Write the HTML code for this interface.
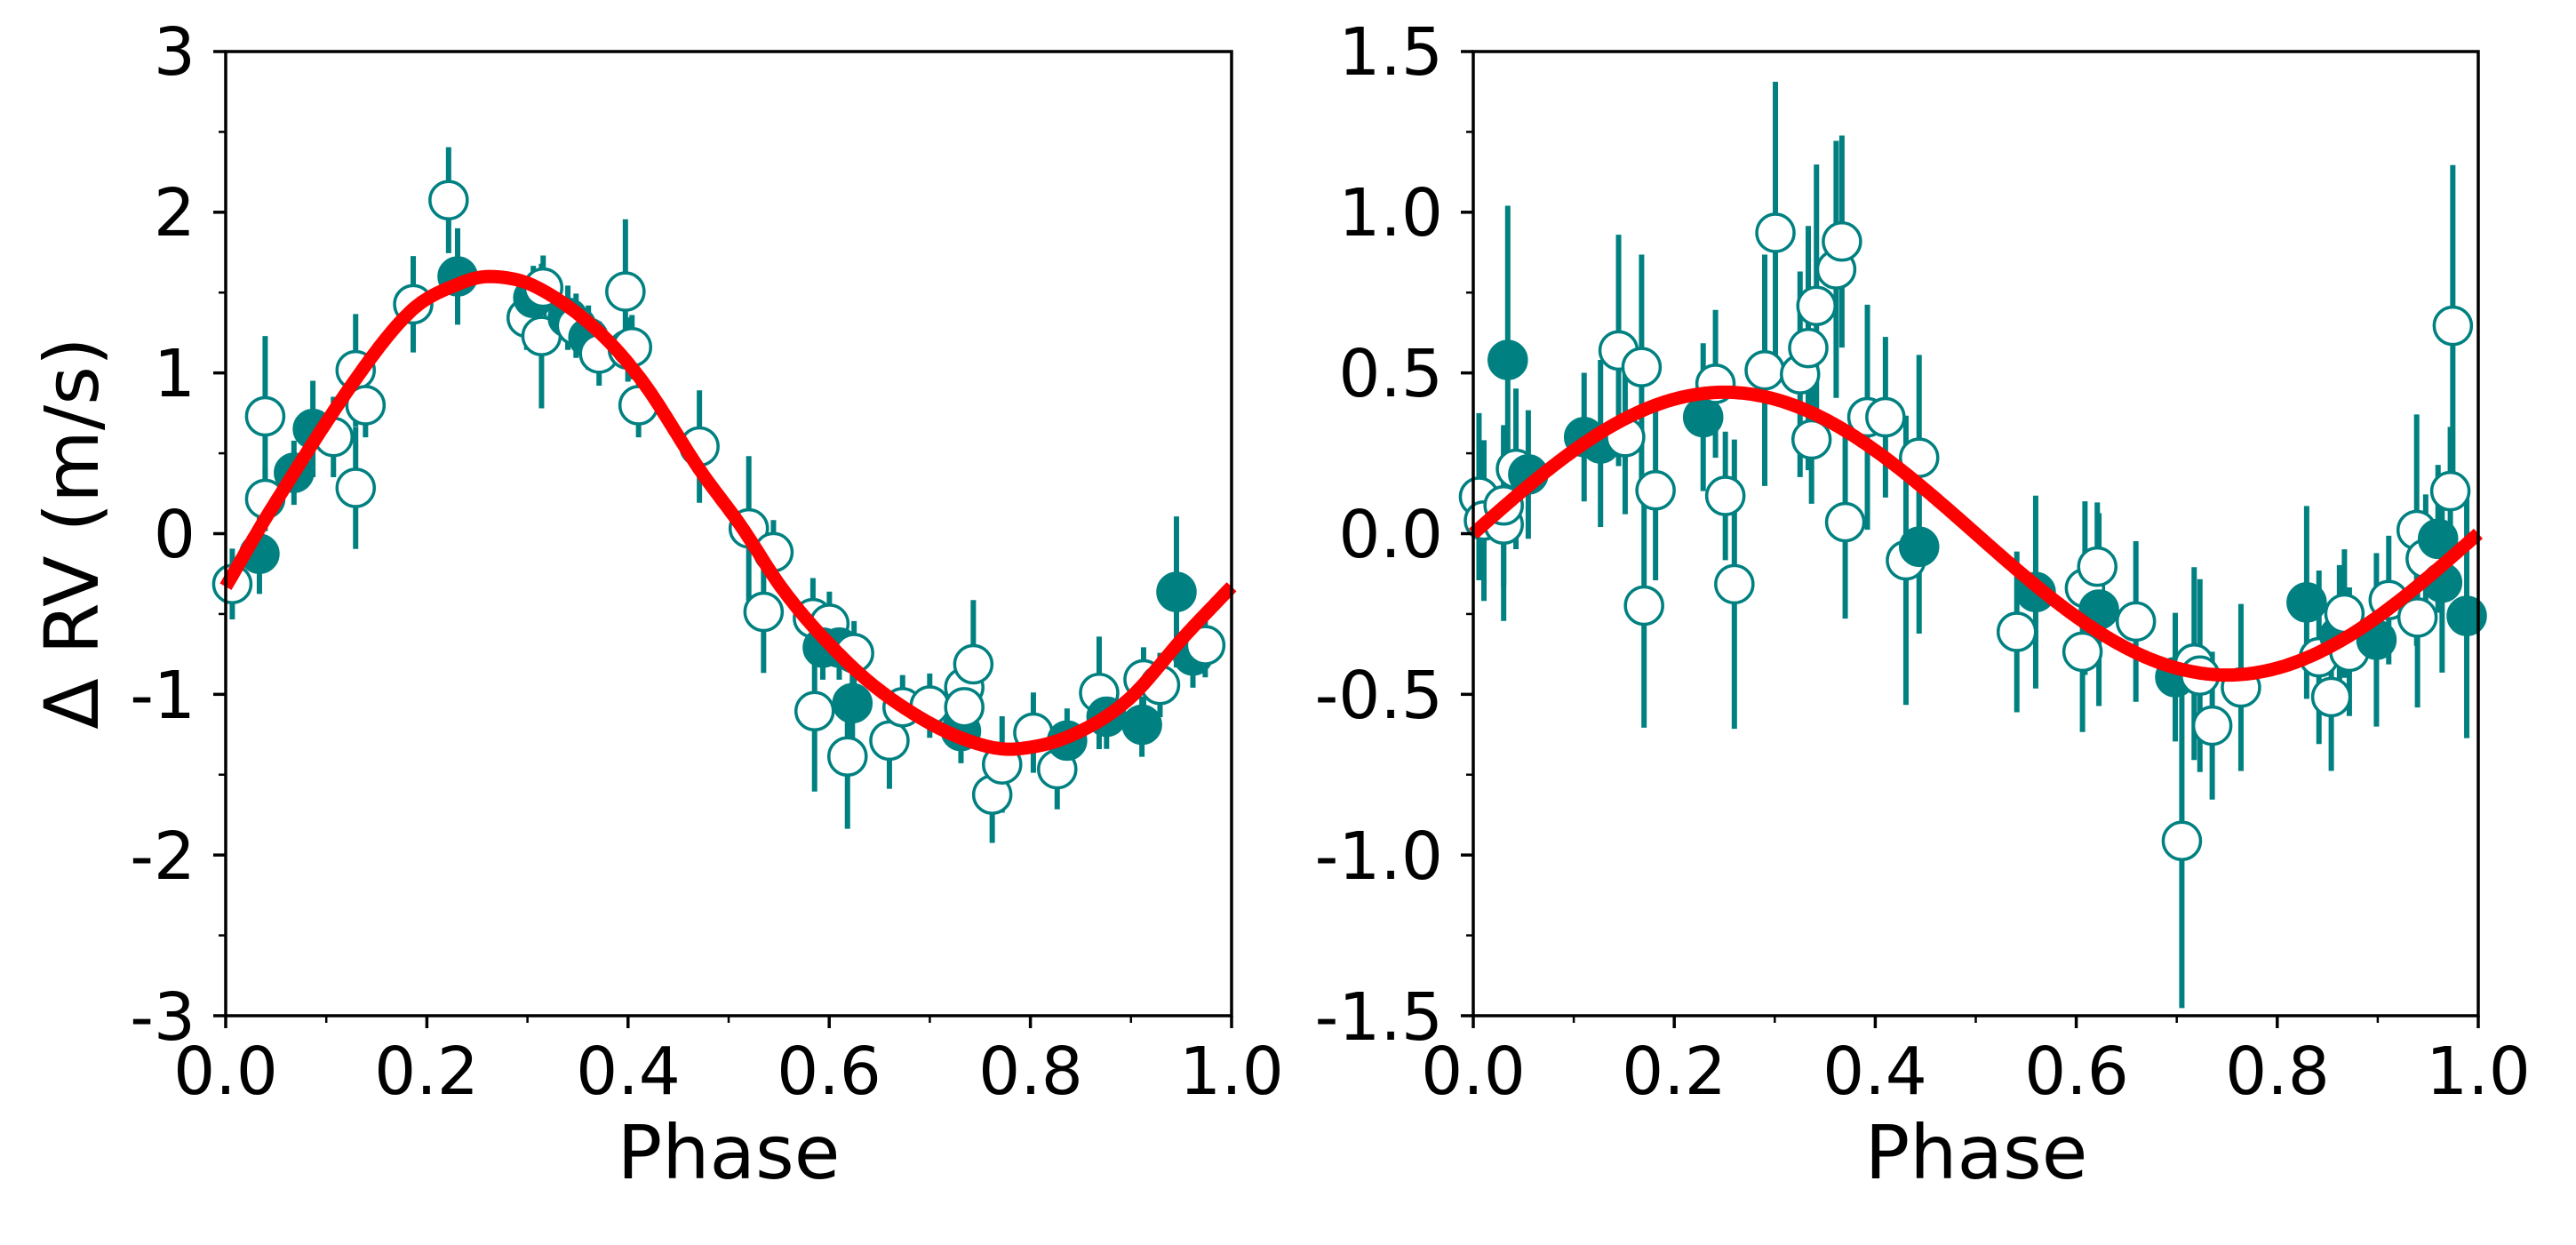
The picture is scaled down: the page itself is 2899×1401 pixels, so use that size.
<!DOCTYPE html>
<html><head><meta charset="utf-8"><style>
html,body{margin:0;padding:0;background:#fff;}
svg{display:block;}
text{font-family:"DejaVu Sans","Liberation Sans",sans-serif;fill:#000;}
</style></head><body>
<svg id="s" width="2899" height="1401" viewBox="0 0 2899 1401" xmlns="http://www.w3.org/2000/svg">
<g id="plots"></g>
<g font-size="74">
<text x="220" y="84" text-anchor="end">3</text>
<text x="220" y="265" text-anchor="end">2</text>
<text x="220" y="446" text-anchor="end">1</text>
<text x="220" y="627" text-anchor="end">0</text>
<text x="220" y="808" text-anchor="end">-1</text>
<text x="220" y="989" text-anchor="end">-2</text>
<text x="220" y="1170" text-anchor="end">-3</text>
<text x="254" y="1231" text-anchor="middle">0.0</text>
<text x="480" y="1231" text-anchor="middle">0.2</text>
<text x="707" y="1231" text-anchor="middle">0.4</text>
<text x="933" y="1231" text-anchor="middle">0.6</text>
<text x="1160" y="1231" text-anchor="middle">0.8</text>
<text x="1386" y="1231" text-anchor="middle">1.0</text>
<text x="1624" y="84" text-anchor="end">1.5</text>
<text x="1624" y="265" text-anchor="end">1.0</text>
<text x="1624" y="446" text-anchor="end">0.5</text>
<text x="1624" y="627" text-anchor="end">0.0</text>
<text x="1624" y="808" text-anchor="end">-0.5</text>
<text x="1624" y="989" text-anchor="end">-1.0</text>
<text x="1624" y="1170" text-anchor="end">-1.5</text>
<text x="1658" y="1231" text-anchor="middle">0.0</text>
<text x="1884" y="1231" text-anchor="middle">0.2</text>
<text x="2110" y="1231" text-anchor="middle">0.4</text>
<text x="2337" y="1231" text-anchor="middle">0.6</text>
<text x="2563" y="1231" text-anchor="middle">0.8</text>
<text x="2789" y="1231" text-anchor="middle">1.0</text>
</g>
<g font-size="84">
<text x="820" y="1326" text-anchor="middle">Phase</text>
<text x="2224" y="1326" text-anchor="middle">Phase</text>
<text transform="translate(110,600) rotate(-90)" text-anchor="middle">Δ RV (m/s)</text>
</g>
</svg>
<script>
(function(){
var NS="http://www.w3.org/2000/svg",g=document.getElementById("plots");
function el(n,a,p){var e=document.createElementNS(NS,n);for(var k in a)e.setAttribute(k,a[k]);(p||g).appendChild(e);return e;}
var T="#008080";
function panel(x0,x1,y0,y1,vmax,vmin,minorStep,majorStep,pts,curve){
  var sx=function(p){return x0+(x1-x0)*p;};
  var sy=function(v){return y0+(y1-y0)*(vmax-v)/(vmax-vmin);};
  pts.forEach(function(d){el("line",{x1:sx(d[0]),x2:sx(d[0]),y1:sy(d[1]+d[2]),y2:sy(d[1]-d[2]),stroke:T,"stroke-width":6});});
  pts.forEach(function(d){el("circle",{cx:sx(d[0]),cy:sy(d[1]),r:21,fill:d[3]?T:"#fff",stroke:T,"stroke-width":3.5});});
  var s="";for(var i=0;i<=400;i++){var p=i/400;s+=(i?"L":"M")+sx(p).toFixed(1)+","+sy(curve(p)).toFixed(1);}
  el("path",{d:s,fill:"none",stroke:"#ff0000","stroke-width":15,"stroke-linejoin":"round"});
  for(var v=vmin;v<=vmax+1e-9;v+=minorStep){var maj=Math.abs(v/majorStep-Math.round(v/majorStep))<1e-6;
    el("line",{x1:x0,x2:x0-(maj?14:8),y1:sy(v),y2:sy(v),stroke:"#000","stroke-width":maj?3.5:2.5});}
  for(var i=0;i<=10;i++){var maj=i%2==0;el("line",{x1:sx(i/10),x2:sx(i/10),y1:y1,y2:y1+(maj?14:8),stroke:"#000","stroke-width":maj?3.5:2.5});}
  el("rect",{x:x0,y:y0,width:x1-x0,height:y1-y0,fill:"none",stroke:"#000","stroke-width":3.5});
}
function interp(knots){return function(p){
  for(var i=0;i<knots.length-1;i++){if(p<=knots[i+1][0]){
    var a=knots[Math.max(i-1,0)],b=knots[i],c=knots[i+1],d=knots[Math.min(i+2,knots.length-1)];
    var t=(p-b[0])/(c[0]-b[0]);var m1=(c[1]-a[1])/(c[0]-a[0])*(c[0]-b[0]),m2=(d[1]-b[1])/(d[0]-b[0])*(c[0]-b[0]);
    var t2=t*t,t3=t2*t;return (2*t3-3*t2+1)*b[1]+(t3-2*t2+t)*m1+(-2*t3+3*t2)*c[1]+(t3-t2)*m2;}}
  return knots[knots.length-1][1];};}
var lk=[[0,-0.33],[0.046,0.16],[0.128,0.95],[0.185,1.39],[0.234,1.56],[0.265,1.60],[0.307,1.54],[0.365,1.29],[0.414,0.95],[0.471,0.40],[0.512,0.05],[0.553,-0.34],[0.593,-0.64],[0.643,-0.94],[0.70,-1.18],[0.749,-1.31],[0.786,-1.34],[0.839,-1.26],[0.896,-1.04],[0.953,-0.64],[1.0,-0.33]];
function L(X,Y,e,f){return [(X-274)/1223,3-(Y-65)/202.2,e,f];}
var lp=[L(282,735,.22,0),L(315,697,.25,1),L(322,628,.2,0),L(322,524,.5,0),L(357,595,.2,1),L(380,540,.3,1),L(405,550,.25,0),L(432,466,.35,0),L(444,510,.2,0),L(432,614,.38,0),L(502,383,.3,0),L(545,252,.33,0),L(556,348,.3,1),L(640,400,.2,0),L(648,375,.2,1),L(660,362,.2,0),L(658,423,.45,0),L(690,400,.2,1),L(700,410,.2,0),L(715,425,.2,1),L(728,445,.2,0),L(760,367,.45,0),L(763,440,.2,0),L(768,437,.2,0),L(776,510,.2,0),L(850,562,.35,0),L(910,665,.45,0),L(940,695,.2,0),L(928,770,.38,0),L(988,778,.25,0),L(1008,785,.2,0),L(1000,815,.2,1),L(1020,815,.2,1),L(1038,822,.2,0),L(990,895,.5,0),L(1036,885,.3,1),L(1030,952,.45,0),L(1081,932,.3,0),L(1097,890,.2,0),L(1130,888,.2,0),L(1168,920,.2,1),L(1172,865,.2,0),L(1183,836,.4,0),L(1172,890,.2,0),L(1206,1000,.3,0),L(1218,962,.3,0),L(1256,922,.25,0),L(1285,968,.25,0),L(1297,932,.2,1),L(1336,872,.35,0),L(1345,902,.2,1),L(1388,912,.2,1),L(1390,855,.2,0),L(1410,862,.2,0),L(1430,745,.47,1),L(1450,825,.2,1),L(1465,812,.2,0)];
function R(X,Y,e,f){return [(X-225)/1224,1.5-(Y-65)/404.3,e,f];}
var rp=[R(232,625,.26,0),R(238,655,.25,0),R(262,660,.3,0),R(267,453,.48,1),R(262,636,.25,0),R(277,590,.25,0),R(292,597,.2,1),R(360,550,.2,1),R(380,558,.26,1),R(402,441,.36,0),R(410,550,.24,0),R(430,462,.35,0),R(447,617,.28,0),R(433,762,.38,0),R(505,525,.23,1),R(520,483,.23,0),R(532,624,.2,0),R(543,735,.45,0),R(580,466,.36,0),R(593,293,.47,0),R(623,471,.32,0),R(633,438,.38,0),R(637,553,.2,0),R(643,385,.44,0),R(667,339,.4,0),R(674,304,.33,0),R(678,657,.3,0),R(705,525,.35,0),R(727,525,.25,0),R(752,705,.45,0),R(768,576,.32,0),R(768,688,.27,1),R(887,795,.25,0),R(910,745,.3,1),R(967,820,.25,0),R(970,740,.27,0),R(985,713,.2,0),R(987,767,.3,1),R(1032,782,.25,0),R(1080,852,.2,1),R(1088,1058,.52,0),R(1103,835,.3,0),R(1110,850,.3,0),R(1125,913,.23,0),R(1160,865,.26,0),R(1240,758,.3,1),R(1255,827,.27,0),R(1270,877,.23,0),R(1280,800,.22,1),R(1286,772,.2,0),R(1292,820,.2,0),R(1325,805,.27,1),R(1340,755,.2,0),R(1375,777,.28,0),R(1374,667,.36,0),R(1385,703,.2,0),R(1400,678,.23,1),R(1405,733,.28,1),R(1415,618,.2,0),R(1418,410,.5,0),R(1435,775,.38,1)];
panel(254,1386,58,1143,3,-3,0.5,1,lp,interp(lk));
panel(1658,2789,58,1143,1.5,-1.5,0.25,0.5,rp,function(p){return 0.44*Math.sin(2*Math.PI*p);});
})();
</script>
</body></html>
